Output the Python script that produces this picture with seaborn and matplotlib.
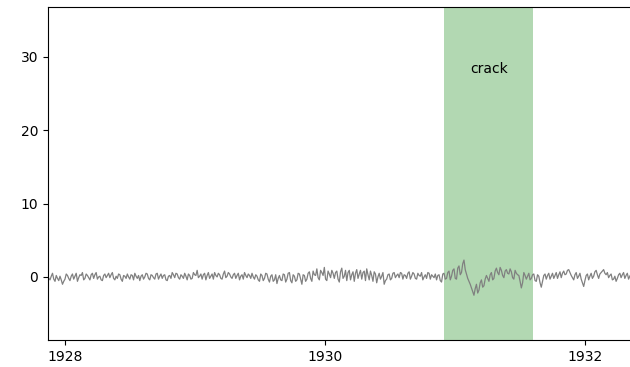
import matplotlib
matplotlib.use("Agg")
import matplotlib.pyplot as plt
import matplotlib.dates as mdates
import seaborn as sns
import pandas as pd

# readings taken twice a week: "weekly" and "midweek" samples per segment
seg1 = [0.3,-0.4,0.5,-0.6,-0.2,0.1,-1.0,-0.3,0.2,-0.5,0.4,0.1,-0.6,0.3,0.6,-0.2,0.2,-0.4,0.5,0.3,-0.3,0.1,-0.5,0.4,0.2,-0.1,0.6,-0.4,-0.2,0.3,-0.6,0.1,0.4,-0.3,0.2,0.5,-0.2,-0.5,0.3,0.0,0.4,-0.4,0.2,-0.3,0.5,0.1,-0.2,0.3,-0.5,0.2,0.6,-0.1]
seg2 = [0.4,-0.3,0.1,0.5,-0.4,0.2,-0.2,0.3,0.9,0.1,-0.3,0.5,0.2,-0.2,0.4,0.6,0.0,0.3,-0.3,0.8,0.1,0.4,-0.2,0.5,0.2,-0.4,0.3,0.6,-0.1,0.2,0.5,-0.3,0.1,-0.6,0.2,-0.2,0.4,-0.7,0.3,-0.4,-0.9,0.2,-0.5,0.3,-0.3,0.6,-0.8,0.1,-0.4,0.4,-1.0,0.2]
seg3 = [-0.3,0.7,-0.6,0.3,1.1,-0.4,0.6,1.3,-0.5,0.4,0.9,-0.2,0.8,-0.7,1.2,0.1,-0.5,0.9,0.3,-0.6,1.0,0.4,-0.3,0.8,1.1,-0.4,0.2,0.7,-0.8,0.5,0.1,-1.0,-0.3,0.4,-0.2,0.6,0.2,-0.1,0.5,0.3,-0.2,0.7,0.1,0.4,-0.3,0.2,0.6,0.0,-0.2,0.5,0.3,-0.1]
seg4 = [-0.4,0.3,-0.7,0.5,-0.2,0.8,0.1,1.1,-0.3,1.5,0.6,2.3,0.4,-0.6,-1.5,-2.5,-1.0,-1.8,-0.4,-1.2,0.2,-0.6,0.6,-0.2,1.2,0.3,0.9,-0.1,1.0,0.4,0.7,-0.3,0.5,0.2,-1.5,0.6,-0.3,0.5]
seg5 = [-0.2,0.4,-0.6,0.1,-1.4,0.2,-0.3,0.5,0.1,-0.2,0.6,0.3,-0.1,0.8,0.4,1.0,0.2,-0.4,0.6,0.1,-0.3,-1.3,0.2,-0.4,0.5,0.1,0.9,-0.2,0.6,1.0,0.3,-0.1,0.4,-0.3,-0.6,0.3,-0.1,0.6,0.2,-0.3,0.4,0.0]

mid1 = [-0.2,0.1,-0.3,0.2,-0.5,-0.4,-0.6,0.4,-0.2,0.1,-0.3,0.5,-0.1,0.2,-0.4,0.4,-0.1,0.3,-0.2,0.6,0.0,-0.4,0.2,-0.1,0.5,0.3,-0.2,0.1,0.4,-0.3,0.2,-0.2,0.0,0.3,-0.4,0.1,0.2,0.1,-0.3,0.5,-0.2,0.3,-0.1,0.4,-0.3,0.4,0.2,-0.4,0.1,-0.2,0.3,0.5]
mid2 = [-0.1,0.3,-0.2,0.1,0.4,-0.3,0.6,0.2,-0.1,0.4,0.3,-0.4,0.6,0.1,-0.3,0.2,0.5,-0.2,0.4,-0.1,0.6,0.0,0.3,-0.2,0.5,0.1,-0.3,0.2,0.4,-0.2,0.0,0.3,-0.4,0.4,-0.5,0.5,-0.3,0.1,-0.6,0.3,-0.2,-0.4,0.4,-0.7,0.5,-0.5,0.3,-0.6,0.5,-0.3,0.3,-0.6]
mid3 = [0.5,-0.2,0.8,0.2,-0.1,0.9,0.2,-0.3,0.8,-0.1,0.5,0.6,-0.3,0.7,-0.2,0.9,0.6,-0.4,0.7,0.5,-0.2,0.9,0.6,-0.5,0.3,0.8,-0.6,0.4,0.0,-0.3,0.6,-0.5,0.3,-0.4,0.5,-0.1,0.4,0.6,-0.3,0.2,0.5,-0.3,0.6,-0.2,0.5,0.1,-0.4,0.3,0.6,-0.3,0.1,0.4]
mid4 = [0.2,-0.5,0.4,-0.3,0.6,-0.4,0.9,-0.2,1.2,0.3,1.8,1.0,-0.2,-1.0,-2.0,-1.6,-2.2,-0.8,-1.4,-0.3,-0.2,0.3,-0.4,0.8,0.6,1.3,0.2,0.8,0.5,1.1,-0.1,0.9,0.3,-0.6,-0.8,0.2,0.1,-0.4]
mid5 = [0.3,-0.5,0.3,-0.8,-0.6,0.4,0.2,-0.3,0.5,0.2,-0.2,0.7,0.5,0.3,0.9,0.6,-0.1,0.3,-0.2,0.5,-0.8,-0.5,0.4,0.1,-0.2,0.7,0.3,0.4,0.8,0.5,0.6,0.2,-0.4,0.1,-0.2,0.5,0.3,-0.2,0.5,0.1,-0.2,0.3]

weekly = seg1 + seg2 + seg3 + seg4 + seg5
midweek = mid1 + mid2 + mid3 + mid4 + mid5
values = [v for pair in zip(weekly, midweek) for v in pair]

start_date = "1927-11-13"
span_start, span_end = "1930-11-29", "1931-08-07"
span_label = "crack"
label_date, label_y = "1931-04-05", 28.3
x_limits = ("1927-11-14", "1932-06-20")
y_limits = (-8.6, 36.8)

dates = pd.date_range(start_date, periods=len(values), freq="84h")
df = pd.DataFrame({"date": dates, "value": values})

fig = plt.figure(figsize=(6.3, 3.67), dpi=100)
ax = fig.add_axes([0.076, 0.0736, 0.95, 0.907])
sns.lineplot(data=df, x="date", y="value", color="gray", linewidth=0.9, ax=ax)
ax.axvspan(pd.Timestamp(span_start), pd.Timestamp(span_end), color="green", alpha=0.3, lw=0)
ax.text(pd.Timestamp(label_date), label_y, span_label, ha="center", va="center", fontsize=10)
ax.set_xlim(pd.Timestamp(x_limits[0]), pd.Timestamp(x_limits[1]))
ax.set_ylim(*y_limits)
ax.set_yticks([0, 10, 20, 30])
ax.xaxis.set_major_locator(mdates.YearLocator(2))
ax.xaxis.set_major_formatter(mdates.DateFormatter("%Y"))
ax.set_xlabel("")
ax.set_ylabel("")
fig.savefig("out.png", dpi=100)
